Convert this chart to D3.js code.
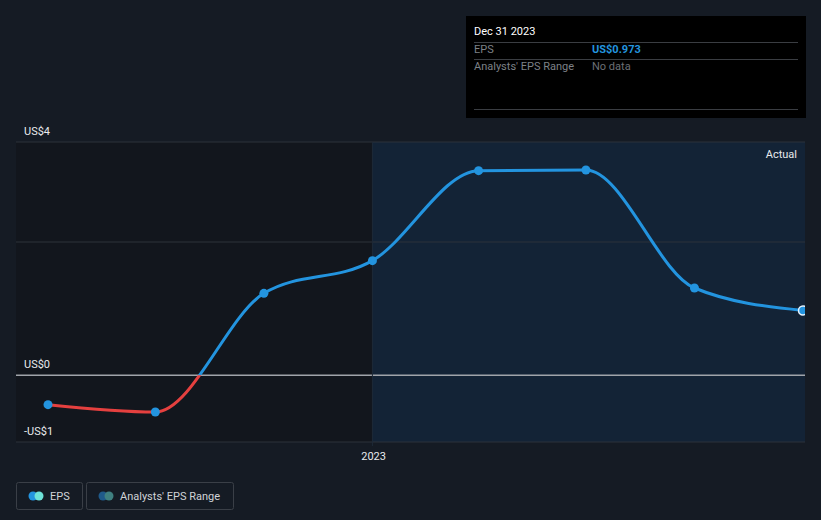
<!DOCTYPE html>
<html><head><meta charset="utf-8">
<script src="https://cdn.jsdelivr.net/npm/d3@7"></script>
<style>
html,body{margin:0;padding:0;background:#151b24;}
svg{display:block;font-family:Roboto, "Noto Sans", sans-serif;}
</style></head>
<body><svg id="c" width="821" height="520"></svg>
<script>
const dates = ["2022-03-31","2022-06-30","2022-09-30","2022-12-31","2023-03-31","2023-06-30","2023-09-30","2023-12-31"];
const eps = [-0.44, -0.55, 1.23, 1.72, 3.07, 3.08, 1.31, 0.973];
const tickValues = [3.5, 0, -1];
const tickLabels = ["US$4", "US$0", "-US$1"];
const gridValues = [3.5, 2, -1];
const xTickDates = ["2023-01-01"];
const xTickLabels = ["2023"];
const tooltipTitle = "Dec 31 2023";
const tooltipRows = [["EPS", "US$0.973"], ["Analysts' EPS Range", "No data"]];
const legendItems = ["EPS", "Analysts' EPS Range"];

const parse = d3.utcParse("%Y-%m-%d");
const data = dates.map((d, i) => ({date: parse(d), v: eps[i]}));
const svg = d3.select("#c");
const L = 16, R = 805, T = 142, B = 442;

const x = d3.scaleUtc()
  .domain([parse("2022-01-30"), parse("2024-01-01")])
  .range([L, R]);
// calibrate so points sit at observed positions
x.domain([parse("2022-03-31"), parse("2023-12-31")]).range([48, 803]);
const y = d3.scaleLinear().domain([-1, 3.5]).range([B, T]);

const splitX = x(parse("2022-12-31"));
// regions
svg.append("rect").attr("x", L).attr("y", T).attr("width", splitX - L).attr("height", B - T).attr("fill", "#12161d");
svg.append("rect").attr("x", splitX).attr("y", T).attr("width", R - splitX).attr("height", B - T).attr("fill", "#13243a").attr("opacity", 0.85);

// grid
svg.selectAll(".grid").data(gridValues).enter().append("line")
  .attr("x1", L).attr("x2", R).attr("y1", d => y(d)).attr("y2", d => y(d))
  .attr("stroke", "#2c323b").attr("stroke-width", 1);
svg.append("line").attr("x1", L).attr("x2", R).attr("y1", y(0)).attr("y2", y(0))
  .attr("stroke", "#a0a4aa").attr("stroke-width", 1.5);
svg.append("line").attr("x1", splitX).attr("x2", splitX).attr("y1", T).attr("y2", B + 4)
  .attr("stroke", "#1e2a38").attr("stroke-width", 1);

// y labels
svg.selectAll(".yl").data(tickValues).enter().append("text")
  .attr("x", 24).attr("y", d => y(d) - 7)
  .attr("fill", "#e8eaed").attr("font-size", 11)
  .text((d, i) => tickLabels[i]);

// x axis
svg.selectAll(".xl").data(xTickDates).enter().append("text")
  .attr("x", d => x(parse(d))).attr("y", 460).attr("text-anchor", "middle")
  .attr("fill", "#e8eaed").attr("font-size", 11)
  .text((d, i) => xTickLabels[i]);

// clip
const defs = svg.append("defs");
defs.append("clipPath").attr("id", "above").append("rect")
  .attr("x", 0).attr("y", 0).attr("width", R).attr("height", y(0));
defs.append("clipPath").attr("id", "below").append("rect")
  .attr("x", 0).attr("y", y(0)).attr("width", R).attr("height", 520 - y(0));
defs.append("clipPath").attr("id", "plot").append("rect")
  .attr("x", 0).attr("y", 0).attr("width", R).attr("height", 520);

const line = d3.line().x(d => x(d.date)).y(d => y(d.v)).curve(d3.curveMonotoneX);
svg.append("path").datum(data).attr("d", line).attr("fill", "none")
  .attr("stroke", "#2394df").attr("stroke-width", 3).attr("clip-path", "url(#above)");
svg.append("path").datum(data).attr("d", line).attr("fill", "none")
  .attr("stroke", "#e5403f").attr("stroke-width", 3).attr("clip-path", "url(#below)");

const g = svg.append("g").attr("clip-path", "url(#plot)");
g.selectAll(".pt").data(data.slice(0, -1)).enter().append("circle")
  .attr("cx", d => x(d.date)).attr("cy", d => y(d.v)).attr("r", 4.5).attr("fill", "#2394df");
const last = data[data.length - 1];
g.append("circle").attr("cx", x(last.date)).attr("cy", y(last.v)).attr("r", 4.5)
  .attr("fill", "#2394df").attr("stroke", "#e8f4ff").attr("stroke-width", 1.5);

// Actual label
svg.append("text").attr("x", 797).attr("y", 158).attr("text-anchor", "end")
  .attr("fill", "#e8eaed").attr("font-size", 11).text("Actual");

// tooltip
const tt = svg.append("g").attr("transform", "translate(466,16)");
tt.append("rect").attr("width", 340).attr("height", 102).attr("fill", "#000000");
tt.append("text").attr("x", 8).attr("y", 19).attr("fill", "#ffffff").attr("font-size", 11).text(tooltipTitle);
tt.append("line").attr("x1", 8).attr("x2", 332).attr("y1", 26.5).attr("y2", 26.5).attr("stroke", "#3a3d42");
tt.append("line").attr("x1", 8).attr("x2", 332).attr("y1", 43.5).attr("y2", 43.5).attr("stroke", "#3a3d42");
tt.append("line").attr("x1", 8).attr("x2", 332).attr("y1", 93.5).attr("y2", 93.5).attr("stroke", "#3a3d42");
tooltipRows.forEach((r, i) => {
  tt.append("text").attr("x", 8).attr("y", 37 + i * 17).attr("fill", "#7d8187").attr("font-size", 11).text(r[0]);
  tt.append("text").attr("x", 126).attr("y", 37 + i * 17)
    .attr("fill", i === 0 ? "#2394df" : "#6b6f75").attr("font-size", 11)
    .attr("font-weight", i === 0 ? "bold" : "normal").text(r[1]);
});

// legend
const legColors = [["#2394df", "#6ee2d8"], ["#1f5a8a", "#3f8080"]];
const legX = [16, 86], legW = [66, 147];
legendItems.forEach((name, i) => {
  const lg = svg.append("g").attr("transform", `translate(${legX[i]},482)`);
  lg.append("rect").attr("x", 0.5).attr("y", 0.5).attr("width", legW[i]).attr("height", 27).attr("rx", 2)
    .attr("fill", "none").attr("stroke", "#3a3f47");
  lg.append("circle").attr("cx", 17).attr("cy", 14).attr("r", 4.5).attr("fill", legColors[i][0]);
  lg.append("circle").attr("cx", 23).attr("cy", 14).attr("r", 4.5).attr("fill", legColors[i][1]);
  lg.append("text").attr("x", 34).attr("y", 18).attr("fill", "#d0d3d7").attr("font-size", 11).text(name);
});
</script></body></html>
